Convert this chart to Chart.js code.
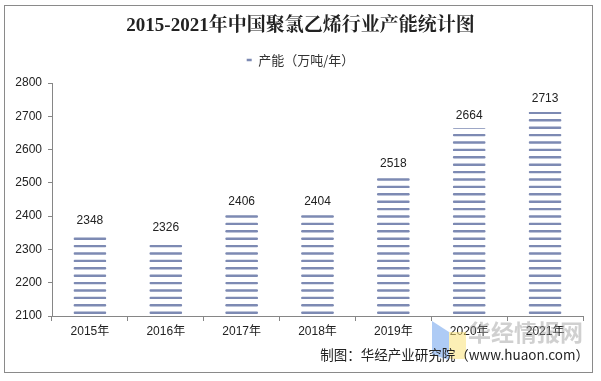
<!DOCTYPE html>
<html><head><meta charset="utf-8">
<script src="https://cdn.jsdelivr.net/npm/chart.js@4.4.1/dist/chart.umd.min.js"></script>
<style>
html,body{margin:0;padding:0;background:#fff;}
#wrap{position:relative;width:601px;height:381px;overflow:hidden;background:#fff;}
#c{position:absolute;left:0;top:0;}
#frame{position:absolute;left:4px;top:5px;width:587px;height:366px;border:1px solid #8a8a8a;pointer-events:none;}
#logoA{position:absolute;left:432px;top:321px;width:17px;height:39px;background:rgba(120,168,238,0.6);clip-path:polygon(0 0,100% 28%,100% 100%,0 86%);}
#logoB{position:absolute;left:449px;top:332px;width:17px;height:27px;background:rgba(250,226,120,0.55);clip-path:polygon(0 0,100% 0,100% 100%,0 100%);}
#wm{position:absolute;left:468px;top:314px;font:bold 23px "Noto Sans CJK SC",sans-serif;color:rgba(150,150,150,0.45);white-space:nowrap;letter-spacing:0px;}
#source{position:absolute;right:12px;top:344px;font:13.5px "Noto Sans CJK SC",sans-serif;color:#222;white-space:nowrap;}
</style></head>
<body>
<div id="wrap">
<canvas id="c" width="601" height="381"></canvas>
<div id="logoA"></div><div id="logoB"></div>
<div id="wm">华经情报网</div>
<div id="source">制图：华经产业研究院（www.huaon.com）</div>
<div id="frame"></div>
</div>
<script>
const TITLE = '2015-2021年中国聚氯乙烯行业产能统计图';
const SERIES_NAME = '产能（万吨/年）';
const categories = ['2015年','2016年','2017年','2018年','2019年','2020年','2021年'];
const capacity = [2348, 2326, 2406, 2404, 2518, 2664, 2713];
const yTicks = [2100, 2200, 2300, 2400, 2500, 2600, 2700, 2800];

const BAR_COLOR = '#7d8ab3';
const AXIS_COLOR = '#868686';
const TEXT_COLOR = '#222';

Chart.defaults.font.family = "'Liberation Sans','Noto Sans CJK SC',sans-serif";
Chart.defaults.font.size = 12;
Chart.defaults.color = TEXT_COLOR;

function makeSpacer(position, size) {
  return {
    position: position, weight: 100, fullSize: position === 'top' || position === 'bottom',
    options: { stackWeight: 1 },
    top: 0, left: 0, right: 0, bottom: 0, width: 0, height: 0,
    isHorizontal() { return this.position === 'top' || this.position === 'bottom'; },
    getPadding() { return { top: 0, left: 0, right: 0, bottom: 0 }; },
    update(maxWidth, maxHeight) {
      if (this.isHorizontal()) { this.width = maxWidth; this.height = size; }
      else { this.width = size; this.height = maxHeight; }
    },
    draw() {}
  };
}

const spacerPlugin = {
  id: 'spacers',
  beforeInit(chart) {
    Chart.layouts.addBox(chart, makeSpacer('top', 6.6));
    Chart.layouts.addBox(chart, makeSpacer('right', 6));
  }
};

const stripePlugin = {
  id: 'stripes',
  afterDatasetsDraw(chart) {
    const ctx = chart.ctx;
    const meta = chart.getDatasetMeta(0);
    const step = 7.4, firstOffset = 3.3;
    meta.data.forEach((el, i) => {
      const p = el.getProps(['x', 'y', 'base', 'width'], true);
      const base = Math.min(p.base, chart.chartArea.bottom);
      const left = p.x - p.width / 2, right = p.x + p.width / 2;
      ctx.save();
      ctx.beginPath();
      ctx.rect(left, p.y, p.width, base - p.y);
      ctx.clip();
      ctx.strokeStyle = BAR_COLOR;
      ctx.lineWidth = 2.4;
      ctx.lineCap = 'round';
      for (let yy = base - firstOffset; yy > p.y - 2; yy -= step) {
        ctx.beginPath();
        ctx.moveTo(left + 1.3, yy);
        ctx.lineTo(right - 1.3, yy);
        ctx.stroke();
      }
      ctx.restore();
      ctx.save();
      ctx.font = "12px 'Liberation Sans', sans-serif";
      ctx.fillStyle = TEXT_COLOR;
      ctx.textAlign = 'center';
      ctx.textBaseline = 'middle';
      ctx.fillText(String(capacity[i]), p.x, p.y - 12.8);
      ctx.restore();
    });
  }
};

new Chart(document.getElementById('c'), {
  type: 'bar',
  data: {
    labels: categories,
    datasets: [{
      label: SERIES_NAME,
      data: capacity,
      xAxisID: 'x', yAxisID: 'y',
      backgroundColor: 'rgba(0,0,0,0)',
      borderWidth: 0,
      barPercentage: 0.435,
      categoryPercentage: 1.0
    }]
  },
  options: {
    responsive: false,
    animation: false,
    events: [],
    layout: { padding: { top: 5, left: 12, right: 12, bottom: 5 } },
    plugins: {
      title: {
        display: true, text: TITLE, color: TEXT_COLOR,
        font: { family: "'Liberation Serif','Noto Serif CJK SC','Noto Sans CJK SC',serif", size: 19, weight: 'bold', lineHeight: 1.2 },
        padding: { top: 10, bottom: 5.6 }
      },
      legend: {
        display: true, position: 'top', align: 'center',
        labels: {
          boxWidth: 5, boxHeight: 2.5, padding: 10,
          color: '#333',
          font: { family: "'Noto Sans CJK SC',sans-serif", size: 13 },
          generateLabels: () => [{
            text: SERIES_NAME, fillStyle: BAR_COLOR, strokeStyle: BAR_COLOR,
            lineWidth: 0, hidden: false, datasetIndex: 0, fontColor: '#333'
          }]
        }
      },
      tooltip: { enabled: false }
    },
    scales: {
      x: {
        type: 'category',
        position: 'bottom',
        offset: true,
        border: { display: true, color: AXIS_COLOR, width: 1 },
        grid: { display: true, offset: true, drawOnChartArea: false, drawTicks: true, tickLength: 5, color: AXIS_COLOR },
        ticks: { padding: 3, color: TEXT_COLOR, font: { size: 12 }, maxRotation: 0 },
        afterFit(s) { s.height = 60; }
      },
      y: {
        type: 'linear',
        min: yTicks[0], max: yTicks[yTicks.length - 1],
        border: { display: true, color: AXIS_COLOR, width: 1 },
        grid: { display: true, drawOnChartArea: false, drawTicks: true, tickLength: 4, color: AXIS_COLOR },
        afterBuildTicks(s) { s.ticks = yTicks.map(v => ({ value: v })); },
        ticks: { padding: 6, color: TEXT_COLOR, font: { size: 12 }, callback: v => String(v) },
        afterFit(s) { s.width = 40; }
      }
    }
  },
  plugins: [spacerPlugin, stripePlugin]
});
</script>
</body></html>
